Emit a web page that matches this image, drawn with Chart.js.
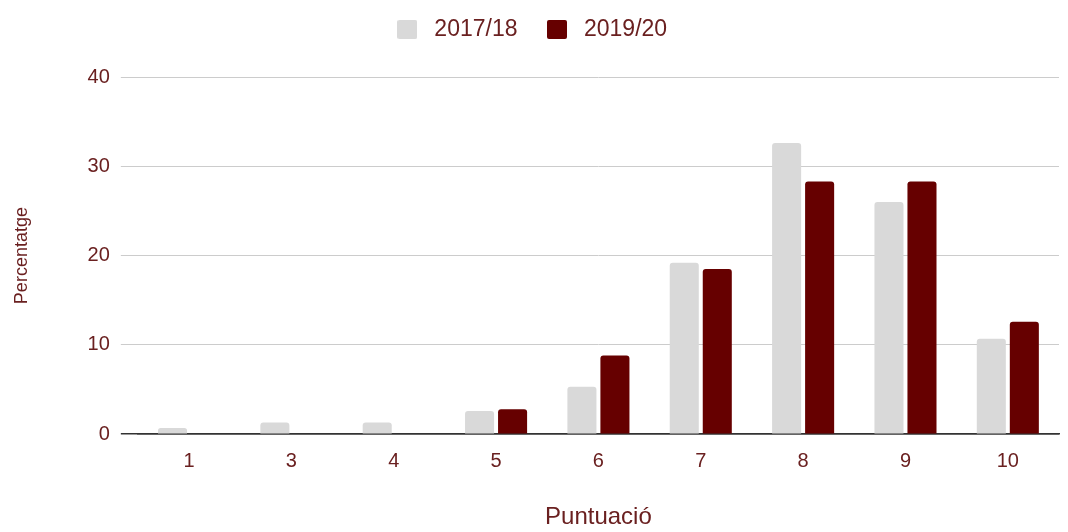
<!DOCTYPE html>
<html>
<head>
<meta charset="utf-8">
<script src="https://cdn.jsdelivr.net/npm/chart.js@4/dist/chart.umd.min.js"></script>
<style>
  html,body{margin:0;padding:0;background:#fff;}
  #wrap{width:1068px;height:532px;position:relative;}
</style>
</head>
<body>
<div id="wrap"><canvas id="chart"></canvas></div>
<script>
/* Puntuació distribution, two course years */
const categories = ['1','3','4','5','6','7','8','9','10'];
const seriesNames = ['2017/18','2019/20'];
const values2017 = [0.7, 1.3, 1.3, 2.6, 5.3, 19.2, 32.6, 26.0, 10.7];
const values2019 = [0, 0, 0, 2.8, 8.8, 18.5, 28.3, 28.3, 12.6];
const yTicks = [0, 10, 20, 30, 40];

const colors = ['#d9d9d9', '#660000'];
const TXT = '#6a2020';
const FONT = 'Liberation Sans, Arial, sans-serif';

// small square swatches for the legend (gives a wider gap before the text)
function swatch(color){
  const c = document.createElement('canvas');
  c.width = 20; c.height = 19;
  const g = c.getContext('2d');
  g.fillStyle = color;
  g.beginPath();
  g.roundRect ? g.roundRect(0, 0, 20, 19, 2) : g.rect(0, 0, 20, 19);
  g.fill();
  return c;
}
const swatches = colors.map(swatch);

// extra room under the legend
const legendGap = {
  id:'legendGap',
  beforeInit(chart){
    const fit = chart.legend.fit;
    chart.legend.fit = function(){ fit.call(this); this.height += 26; };
  }
};

new Chart(document.getElementById('chart'), {
  type:'bar',
  data:{
    labels:categories,
    datasets:[
      {label:seriesNames[0], data:values2017, backgroundColor:colors[0], borderRadius:3},
      {label:seriesNames[1], data:values2019, backgroundColor:colors[1], borderRadius:3}
    ]
  },
  options:{
    responsive:true,
    maintainAspectRatio:false,
    animation:false,
    categoryPercentage:0.645,
    barPercentage:0.88,
    layout:{padding:{left:0, right:9, top:-6, bottom:0}},
    plugins:{
      legend:{
        position:'top',
        labels:{
          color:TXT, font:{family:FONT, size:23},
          usePointStyle:true, pointStyleWidth:31, padding:24,
          generateLabels(chart){
            const items = Chart.defaults.plugins.legend.labels.generateLabels(chart);
            items.forEach((it, i) => { it.pointStyle = swatches[i]; });
            return items;
          }
        }
      },
      tooltip:{enabled:false}
    },
    scales:{
      x:{
        grid:{display:false, drawTicks:false},
        border:{display:true, color:'#333', width:1.5},
        ticks:{color:TXT, font:{family:FONT, size:20}, padding:15},
        title:{display:true, text:'Puntuació', color:TXT,
               font:{family:FONT, size:24}, padding:{top:15, bottom:0}}
      },
      y:{
        min:yTicks[0], max:yTicks[yTicks.length-1],
        afterBuildTicks:s=>{ s.ticks = yTicks.map(v=>({value:v})); },
        grid:{
          color:c=>c.tick && c.tick.value===0 ? '#333' : '#cccccc',
          lineWidth:c=>c.tick && c.tick.value===0 ? 1.5 : 1,
          drawTicks:true, tickLength:17
        },
        border:{display:false},
        ticks:{color:TXT, font:{family:FONT, size:20}, padding:11},
        title:{display:true, text:'Percentatge', color:TXT,
               font:{family:FONT, size:18}, padding:{top:11, bottom:44}}
      }
    }
  },
  plugins:[legendGap]
});
</script>
</body>
</html>
